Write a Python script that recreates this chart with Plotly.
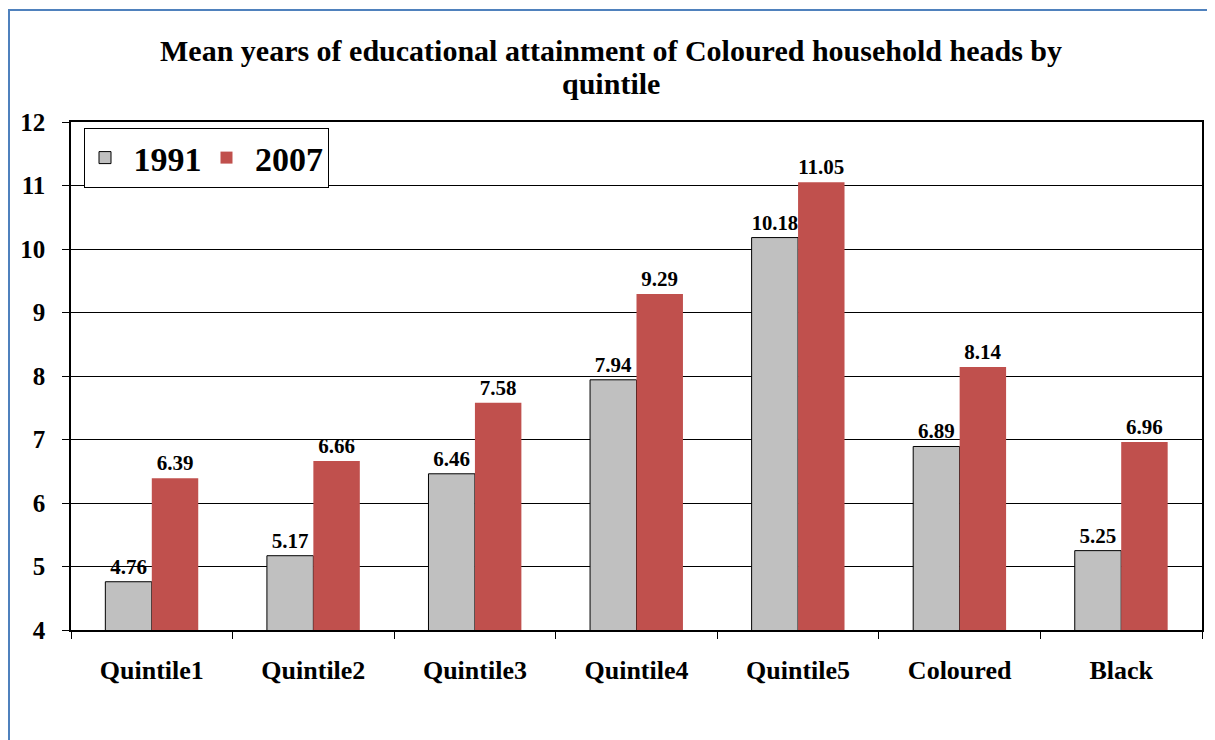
import plotly.graph_objects as go

categories = ["Quintile1", "Quintile2", "Quintile3", "Quintile4", "Quintile5", "Coloured", "Black"]
values_1991 = [4.76, 5.17, 6.46, 7.94, 10.18, 6.89, 5.25]
values_2007 = [6.39, 6.66, 7.58, 9.29, 11.05, 8.14, 6.96]
y_ticks = [4, 5, 6, 7, 8, 9, 10, 11, 12]
title_lines = ["Mean years of educational attainment of Coloured household heads by", "quintile"]

FONT = "Liberation Serif, Times New Roman, serif"
OFF = 8  # page body margin
W, H = 1215 - OFF, 740 - OFF
L, R, T, B = 71 - OFF, 13, 122 - OFF, 110
pw, ph = W - L - R, H - T - B

def px_x(px):
    return (px - OFF - L) / pw

def px_y(py):
    return 1 - (py - OFF - T) / ph

fig = go.Figure()
fig.add_trace(go.Bar(
    name="&nbsp;<b>1991</b>", x=categories, y=values_1991,
    marker=dict(color="#C0C0C0", line=dict(color="black", width=1)),
    text=[f"<b>{v:.2f}</b>" for v in values_1991], textposition="outside",
    textfont=dict(family=FONT, size=21, color="black"),
    cliponaxis=False,
))
fig.add_trace(go.Bar(
    name="&nbsp;<b>2007</b>", x=categories, y=values_2007,
    marker=dict(color="#C0504D", line=dict(width=0)),
    text=[f"<b>{v:.2f}</b>" for v in values_2007], textposition="outside",
    textfont=dict(family=FONT, size=21, color="black"),
    cliponaxis=False,
))

fig.update_layout(
    width=W, height=H,
    margin=dict(l=L, r=R, t=T, b=B),
    paper_bgcolor="white", plot_bgcolor="white",
    font=dict(family=FONT, color="black"),
    barmode="group", bargap=0.425, bargroupgap=0,
    legend=dict(
        orientation="h", x=px_x(84), y=px_y(128), xanchor="left", yanchor="top",
        bordercolor="black", borderwidth=1, bgcolor="white",
        font=dict(family=FONT, size=34, color="black"),
        itemwidth=30, tracegroupgap=0,
    ),
    showlegend=True,
)
for line, cy in zip(title_lines, [50, 84]):
    fig.add_annotation(
        text=f"<b>{line}</b>", xref="paper", yref="paper",
        x=px_x(611), y=px_y(cy), xanchor="center", yanchor="middle",
        showarrow=False, font=dict(family=FONT, size=30, color="black"),
    )

fig.update_xaxes(
    showline=True, linecolor="black", linewidth=1.5, mirror=True,
    ticks="outside", tickson="boundaries", ticklen=7, tickcolor="black",
    tickvals=categories, ticktext=[f"<b>{c}</b>" for c in categories],
    tickfont=dict(family=FONT, size=26, color="black"),
    ticklabelstandoff=16,
    showgrid=False,
)
fig.update_yaxes(
    range=[4, 12], tickvals=y_ticks, ticktext=[f"<b>{v}</b>" for v in y_ticks],
    showline=True, linecolor="black", linewidth=1.5, mirror=True,
    ticks="outside", ticklen=7, tickcolor="black",
    showgrid=True, gridcolor="black", gridwidth=1,
    tickfont=dict(family=FONT, size=25, color="black"),
    ticklabelstandoff=12,
    zeroline=False,
)
fig.add_shape(
    type="rect", xref="paper", yref="paper",
    x0=px_x(9), x1=px_x(1216), y0=px_y(760), y1=px_y(10),
    line=dict(color="#4F81BD", width=2), fillcolor="rgba(0,0,0,0)", layer="below",
)
fig.write_html("out.html")
